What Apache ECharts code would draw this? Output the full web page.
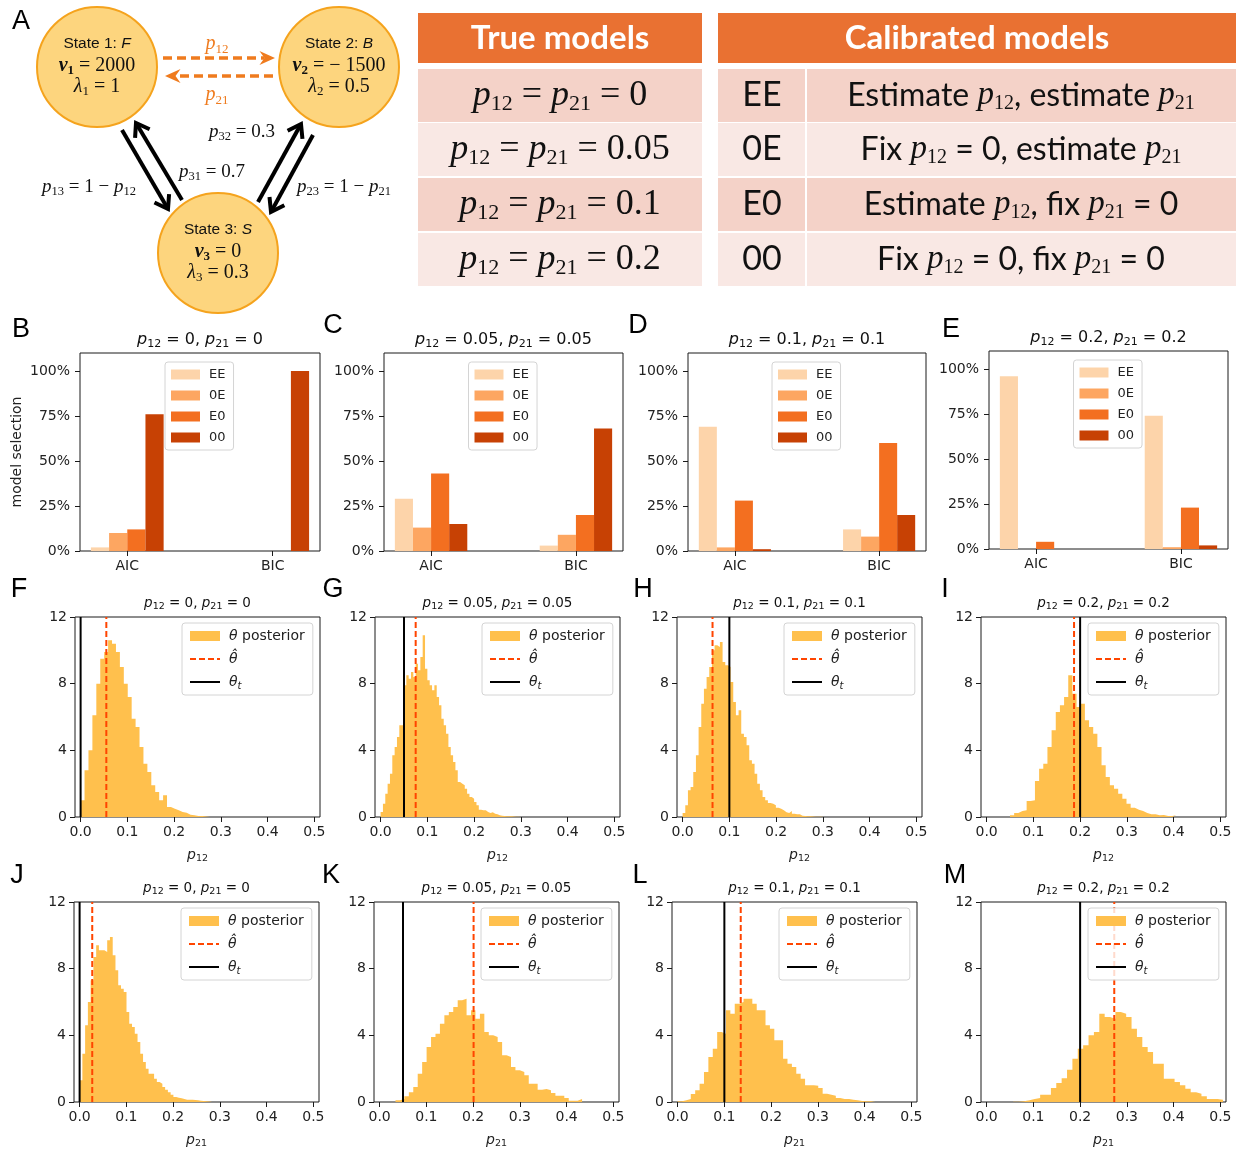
<!DOCTYPE html>
<html>
<head>
<meta charset="utf-8">
<script src="https://cdn.jsdelivr.net/npm/echarts@6/dist/echarts.min.js"></script>
<style>
  html, body { margin: 0; padding: 0; background: #fff; }
  #chart { width: 1236px; height: 1151px; }
</style>
</head>
<body>
<div id="chart"></div>
<script>
// ---------------- data ----------------
const models = ['EE', '0E', 'E0', '00'];
const criteria = ['AIC', 'BIC'];
const percentTicks = [0, 25, 50, 75, 100];
const pTicks = [0, 0.1, 0.2, 0.3, 0.4, 0.5];
const trueP = [0, 0.05, 0.1, 0.2];

// model selection frequency (%): rows AIC, BIC; columns follow `models`
const selectionB = [[2, 10, 12, 76], [0, 0, 0, 100]];
const selectionC = [[29, 13, 43, 15], [3, 9, 20, 68]];
const selectionD = [[69, 2, 28, 1], [12, 8, 60, 20]];
const selectionE = [[96, 0, 4, 0], [74, 1, 23, 2]];

// posterior densities of p12 (F–I) and p21 (J–M): first bin edge, bin width, densities
const histF_start = 0, histF_width = 0.0084;
const histF = [1.0, 2.8, 4.0, 6.1, 8.0, 9.5, 9.9, 10.6, 10.4, 9.9, 9.0, 8.0, 7.2, 5.9, 5.4, 4.2, 3.2, 2.7, 1.9, 1.5, 1.0, 1.3, 0.6, 0.5, 0.4, 0.3, 0.26, 0.14, 0.1, 0.06, 0.06, 0.03, 0.02];
const histG_start = 0, histG_width = 0.005;
const histG = [0.3, 0.8, 1.4, 2.0, 2.6, 3.7, 4.2, 4.8, 5.5, 5.5, 7.9, 8.5, 8.3, 8.7, 8.4, 9.2, 8.8, 9.6, 10.9, 8.9, 8.2, 7.9, 7.6, 7.9, 7.2, 6.7, 5.9, 5.5, 5.0, 4.2, 3.7, 3.3, 2.8, 2.1, 2.0, 1.9, 1.7, 1.4, 1.2, 1.1, 0.9, 0.7, 0.44, 0.4, 0.4, 0.3, 0.24, 0.28, 0.2, 0.16, 0.1, 0.08, 0.06, 0.05, 0.04, 0.04, 0.03, 0.02, 0.02, 0.02];
const histH_start = 0, histH_width = 0.0057;
const histH = [0.24, 0.7, 1.6, 1.8, 2.7, 3.7, 5.4, 6.8, 7.7, 8.4, 9.0, 10.0, 10.3, 10.2, 10.5, 9.3, 9.1, 9.0, 8.1, 6.9, 6.1, 6.4, 5.0, 4.8, 4.3, 3.4, 3.2, 2.6, 2.0, 1.6, 1.2, 1.0, 0.84, 0.8, 0.7, 0.56, 0.5, 0.4, 0.28, 0.24, 0.36, 0.2, 0.16, 0.16, 0.08, 0.06, 0.04, 0.04, 0.03, 0.02, 0.02, 0.02, 0.02];
const histI_start = 0.05, histI_width = 0.0089;
const histI = [0.1, 0.24, 0.36, 0.4, 0.96, 1.0, 2.16, 2.9, 3.2, 4.2, 5.2, 6.3, 6.7, 7.2, 8.5, 7.4, 6.6, 6.8, 5.8, 5.4, 5.0, 4.2, 3.1, 2.4, 1.9, 1.7, 1.4, 1.1, 0.8, 0.56, 0.44, 0.36, 0.24, 0.16, 0.16, 0.1, 0.12, 0.06, 0.06, 0.1];
const histJ_start = 0, histJ_width = 0.0059;
const histJ = [1.3, 2.9, 4.6, 6.0, 7.3, 8.7, 9.4, 9.1, 9.1, 9.0, 9.7, 9.9, 8.8, 7.9, 7.0, 6.8, 6.6, 5.4, 4.7, 4.5, 4.1, 3.6, 2.9, 2.4, 2.0, 1.7, 1.7, 1.4, 1.2, 1.1, 0.9, 0.74, 0.58, 0.44, 0.3, 0.26, 0.22, 0.18, 0.14, 0.14, 0.14, 0.12, 0.1, 0.08, 0.06, 0.04, 0.03, 0.02];
const histK_start = 0.034, histK_width = 0.0095;
const histK = [0.1, 0.18, 0.34, 0.58, 0.9, 1.7, 2.4, 3.3, 3.9, 4.1, 4.7, 5.2, 5.4, 5.7, 6.1, 6.2, 5.2, 5.5, 5.0, 5.3, 4.2, 4.0, 3.9, 3.6, 2.8, 2.7, 2.1, 1.9, 1.8, 1.6, 1.1, 1.1, 0.74, 0.78, 0.7, 0.54, 0.38, 0.38, 0.24, 0.08, 0.08, 0.18];
const histL_start = 0, histL_width = 0.0094;
const histL = [0.04, 0.1, 0.18, 0.48, 0.7, 1.1, 1.8, 2.7, 3.2, 4.2, 4.1, 5.5, 5.3, 5.9, 6.0, 6.2, 6.2, 5.9, 5.5, 5.5, 4.6, 4.4, 3.7, 3.7, 2.6, 2.3, 2.1, 1.7, 1.4, 1.0, 1.0, 0.98, 0.84, 0.5, 0.44, 0.38, 0.24, 0.18, 0.18, 0.14, 0.1, 0.06, 0.04, 0.04, 0.04];
const histM_start = 0.057, histM_width = 0.0115;
const histM = [0.02, 0.04, 0.1, 0.18, 0.24, 0.44, 0.44, 0.84, 1.14, 1.43, 1.93, 2.6, 3.2, 3.4, 4.0, 4.2, 5.3, 5.1, 5.0, 5.4, 5.3, 5.1, 4.4, 3.9, 3.3, 3.0, 2.3, 2.3, 1.4, 1.4, 1.2, 1.0, 0.8, 0.58, 0.5, 0.34, 0.18, 0.18, 0.14];

// posterior point estimates
const estimateP12 = [0.055, 0.075, 0.064, 0.187];
const estimateP21 = [0.027, 0.201, 0.135, 0.273];

// calibrated model descriptions (table in panel A)
const modelDescriptions = [
  ['Estimate ', 'p12', ', estimate ', 'p21', ''],
  ['Fix ', 'p12', ' = 0, estimate ', 'p21', ''],
  ['Estimate ', 'p12', ', fix ', 'p21', ' = 0'],
  ['Fix ', 'p12', ' = 0, fix ', 'p21', ' = 0']
];

// ---------------- style & layout ----------------
const FONT = 'DejaVu Sans';
const SERIF = 'Liberation Serif';
const SANS = 'Liberation Sans';
const TABLE_FONT = 'Lato';
const INK = '#1a1a1a';
const HIST_COLOR = '#FFC04D';
const EST_COLOR = '#FF4500';
const BAR_COLORS = ['#FDD4AA', '#FDA661', '#F36F20', '#C74104'];
const ORANGE = '#EF7B1E';
const BAR_W = 0.125;
const NO_SYMBOL = 'rgba(0,0,0,0)';

const barLayout = [
  { left: 80, top: 353, width: 240, height: 198 },
  { left: 384, top: 353, width: 239, height: 198 },
  { left: 688, top: 353, width: 238, height: 198 },
  { left: 989, top: 351, width: 239, height: 198 }
];
const histLayout = [
  { left: 75, top: 617 }, { left: 375, top: 617 }, { left: 677, top: 617 }, { left: 981, top: 617 },
  { left: 74, top: 902 }, { left: 374, top: 902 }, { left: 672, top: 902 }, { left: 981, top: 902 }
];
const HIST_W = 245, HIST_H = 200;

// ---------------- helpers ----------------
const tok = (s, t) => '{' + s + '|' + t + '}';
function pSym(sub, ps, ss) { return tok(ps, 'p') + tok(ss, sub); }
function titleText(a, b) {
  return pSym('12', 'p', 's') + tok('n', ' = ' + a + ', ') + pSym('21', 'p', 's') + tok('n', ' = ' + b);
}
function mathRich(size, subSize, family, color) {
  return {
    p: { fontFamily: family, fontStyle: 'italic', fontSize: size, lineHeight: size + 4, color: color, fill: color },
    s: { fontFamily: family, fontSize: subSize, lineHeight: Math.round(subSize * 0.75), verticalAlign: 'bottom', color: color, fill: color },
    n: { fontFamily: family, fontSize: size, lineHeight: size + 4, color: color, fill: color }
  };
}

const grids = [], xAxes = [], yAxes = [], series = [], legends = [], graphics = [];

function addText(x, y, text, rich, extra) {
  graphics.push(Object.assign({
    type: 'text', x: x, y: y, silent: true,
    style: { text: text, rich: rich, align: 'center', verticalAlign: 'middle', fill: INK }
  }, extra || {}));
}

// ---------------- panels B–E: model selection ----------------
function barRenderer(k) {
  return function (params, api) {
    const cx = api.value(0) + (k - 1.5) * BAR_W;
    const p0 = api.coord([cx - BAR_W / 2, api.value(1)]);
    const p1 = api.coord([cx + BAR_W / 2, 0]);
    return {
      type: 'rect',
      shape: { x: p0[0], y: p0[1], width: p1[0] - p0[0], height: p1[1] - p0[1] },
      style: { fill: api.visual('color') }
    };
  };
}

const selections = [selectionB, selectionC, selectionD, selectionE];
selections.forEach((sel, pi) => {
  const g = barLayout[pi];
  const gi = grids.length;
  grids.push(Object.assign({ show: true, borderColor: INK, borderWidth: 1, backgroundColor: 'transparent' }, g));
  xAxes.push({
    gridIndex: gi, type: 'value', min: -0.325, max: 1.325,
    splitLine: { show: false }, axisLine: { show: false, onZero: false },
    axisTick: { show: true, customValues: [0, 1], length: 5, lineStyle: { color: INK } },
    axisLabel: { customValues: [0, 1], formatter: v => criteria[Math.round(v)], fontSize: 14, color: '#222', fontFamily: FONT, margin: 8 }
  });
  yAxes.push({
    gridIndex: gi, type: 'value', min: 0, max: 110,
    splitLine: { show: false }, axisLine: { show: false, onZero: false },
    axisTick: { show: true, customValues: percentTicks, length: 5, lineStyle: { color: INK } },
    axisLabel: { customValues: percentTicks, formatter: v => v + '%', fontSize: 14, color: '#222', fontFamily: FONT, margin: 10 },
    name: pi === 0 ? 'model selection' : '', nameLocation: 'middle', nameGap: 56, nameRotate: 90,
    nameTextStyle: { fontSize: 14, color: '#222', fontFamily: FONT }
  });
  models.forEach((m, k) => {
    series.push({
      type: 'custom', name: m, xAxisIndex: gi, yAxisIndex: gi,
      itemStyle: { color: BAR_COLORS[k] },
      encode: { x: 0, y: 1 },
      data: criteria.map((c, ci) => [ci, sel[ci][k]]),
      renderItem: barRenderer(k)
    });
  });
  legends.push({
    orient: 'vertical', left: g.left + g.width / 2 - 35, top: g.top + 9,
    data: models.map(n => ({ name: n, icon: 'rect' })),
    selectedMode: false, itemWidth: 29, itemHeight: 10, itemGap: 6,
    padding: [5, 8, 5, 6], borderColor: '#d4d4d4', borderWidth: 1, borderRadius: 3,
    backgroundColor: 'rgba(255,255,255,0.8)',
    textStyle: { fontSize: 13, color: '#222', fontFamily: FONT, lineHeight: 15, padding: [0, 0, 0, 4] }
  });
  addText(g.left + g.width / 2, g.top - 13, titleText(trueP[pi], trueP[pi]), mathRich(16, 11, FONT, '#111'));
});

// ---------------- panels F–M: posterior histograms ----------------
const hists = [
  [histF, histF_start, histF_width, estimateP12[0], trueP[0], '12'],
  [histG, histG_start, histG_width, estimateP12[1], trueP[1], '12'],
  [histH, histH_start, histH_width, estimateP12[2], trueP[2], '12'],
  [histI, histI_start, histI_width, estimateP12[3], trueP[3], '12'],
  [histJ, histJ_start, histJ_width, estimateP21[0], trueP[0], '21'],
  [histK, histK_start, histK_width, estimateP21[1], trueP[1], '21'],
  [histL, histL_start, histL_width, estimateP21[2], trueP[2], '21'],
  [histM, histM_start, histM_width, estimateP21[3], trueP[3], '21']
];
const legendLabels = {
  posterior: '{i|θ} posterior',
  estimate: '{i|θ̂}',
  truth: '{i|θ}{t|t}'
};

hists.forEach(([dens, start, width, est, truth, sub], hi) => {
  const g = histLayout[hi];
  const gi = grids.length;
  grids.push({ left: g.left, top: g.top, width: HIST_W, height: HIST_H, show: true, borderColor: INK, borderWidth: 1, backgroundColor: 'transparent' });
  xAxes.push({
    gridIndex: gi, type: 'value', min: -0.012, max: 0.512,
    splitLine: { show: false }, axisLine: { show: false, onZero: false },
    axisTick: { show: true, customValues: pTicks, length: 5, lineStyle: { color: INK } },
    axisLabel: { customValues: pTicks, formatter: v => v.toFixed(1), fontSize: 14, color: '#222', fontFamily: FONT, margin: 8 },
    name: pSym(sub, 'p', 's'), nameLocation: 'middle', nameGap: 29,
    nameTextStyle: { rich: mathRich(14, 9.5, FONT, '#222') }
  });
  yAxes.push({
    gridIndex: gi, type: 'value', min: 0, max: 12, interval: 4,
    splitLine: { show: false }, axisLine: { show: false, onZero: false },
    axisTick: { show: true, length: 5, lineStyle: { color: INK } },
    axisLabel: { fontSize: 14, color: '#222', fontFamily: FONT, margin: 8 }
  });
  const stepData = dens.map((h, i) => [start + i * width, h]);
  stepData.push([start + dens.length * width, dens[dens.length - 1]]);
  series.push({
    type: 'line', name: 'posterior', xAxisIndex: gi, yAxisIndex: gi, step: 'end',
    symbol: 'none', silent: true, lineStyle: { width: 0 },
    itemStyle: { color: HIST_COLOR }, areaStyle: { color: HIST_COLOR, opacity: 1 },
    data: stepData
  });
  series.push({
    type: 'line', name: 'estimate', xAxisIndex: gi, yAxisIndex: gi, symbol: 'none', silent: true,
    itemStyle: { color: NO_SYMBOL }, lineStyle: { color: EST_COLOR, width: 2, type: [6, 3] },
    data: [[est, 0], [est, 12]]
  });
  series.push({
    type: 'line', name: 'truth', xAxisIndex: gi, yAxisIndex: gi, symbol: 'none', silent: true,
    itemStyle: { color: NO_SYMBOL }, lineStyle: { color: '#000', width: 2 },
    data: [[truth, 0], [truth, 12]]
  });
  legends.push({
    orient: 'vertical', left: g.left + HIST_W - 138, top: g.top + 6,
    data: [{ name: 'posterior', icon: 'rect' }, { name: 'estimate' }, { name: 'truth' }],
    selectedMode: false, itemWidth: 30, itemHeight: 10, itemGap: 5,
    padding: [4, 8, 4, 7], borderColor: '#d4d4d4', borderWidth: 1, borderRadius: 3,
    backgroundColor: 'rgba(255,255,255,0.8)',
    formatter: n => legendLabels[n],
    textStyle: {
      fontSize: 14, color: '#222', fontFamily: FONT, lineHeight: 18, padding: [0, 0, 0, 4],
      rich: {
        i: { fontStyle: 'italic', fontSize: 14, fontFamily: FONT, color: '#222', lineHeight: 18 },
        t: { fontStyle: 'italic', fontSize: 10, fontFamily: FONT, color: '#222', lineHeight: 8, verticalAlign: 'bottom' }
      }
    }
  });
  addText(g.left + HIST_W / 2, g.top - 14, titleText(trueP[hi % 4], trueP[hi % 4]), mathRich(13.5, 9.5, FONT, '#111'));
});

// ---------------- panel A: state diagram ----------------
const circleStyle = { fill: '#FDD57E', stroke: '#F5A31D', lineWidth: 2 };
[[97, 67], [339, 67], [218, 253]].forEach(([cx, cy]) => {
  graphics.push({ type: 'circle', silent: true, shape: { cx: cx, cy: cy, r: 60 }, style: circleStyle });
});
const stateRich = {
  a: { fontFamily: SANS, fontSize: 15.5, lineHeight: 18, fill: '#111' },
  ai: { fontFamily: SANS, fontSize: 15.5, fontStyle: 'italic', lineHeight: 18, fill: '#111' },
  b: { fontFamily: SERIF, fontSize: 20, fontStyle: 'italic', fontWeight: 'bold', lineHeight: 23, fill: '#111' },
  bs: { fontFamily: SERIF, fontSize: 13, fontWeight: 'bold', lineHeight: 10, verticalAlign: 'bottom', fill: '#111' },
  l: { fontFamily: SERIF, fontSize: 20, fontStyle: 'italic', lineHeight: 23, fill: '#111' },
  ls: { fontFamily: SERIF, fontSize: 13, lineHeight: 10, verticalAlign: 'bottom', fill: '#111' },
  n: { fontFamily: SERIF, fontSize: 20, lineHeight: 23, fill: '#111' }
};
const states = [
  [97, 67, '1', 'F', '2000', '1'],
  [339, 67, '2', 'B', '\u2212 1500', '0.5'],
  [218, 253, '3', 'S', '0', '0.3']
];
states.forEach(([cx, cy, idx, letter, nu, lam]) => {
  addText(cx, cy - 23, tok('a', 'State ' + idx + ': ') + tok('ai', letter), stateRich);
  addText(cx, cy - 1, tok('b', 'ν') + tok('bs', idx) + tok('n', ' = ' + nu), stateRich);
  addText(cx, cy + 20, tok('l', 'λ') + tok('ls', idx) + tok('n', ' = ' + lam), stateRich);
});

function unit(x1, y1, x2, y2) {
  const L = Math.hypot(x2 - x1, y2 - y1);
  return [(x2 - x1) / L, (y2 - y1) / L];
}
function rot(v, a) {
  return [v[0] * Math.cos(a) - v[1] * Math.sin(a), v[0] * Math.sin(a) + v[1] * Math.cos(a)];
}
// dashed orange arrow with a notched head
function dashedArrow(x1, y1, x2, y2) {
  const u = unit(x1, y1, x2, y2), b = [-u[0], -u[1]];
  const len = 17, ang = 0.42;
  const a1 = rot(b, ang), a2 = rot(b, -ang);
  const notch = [x2 + b[0] * len * 0.62, y2 + b[1] * len * 0.62];
  graphics.push({ type: 'line', silent: true, shape: { x1: x1, y1: y1, x2: notch[0], y2: notch[1] },
    style: { stroke: ORANGE, lineWidth: 3.5, lineDash: [9, 5] } });
  graphics.push({ type: 'polygon', silent: true,
    shape: { points: [[x2, y2], [x2 + a1[0] * len, y2 + a1[1] * len], notch, [x2 + a2[0] * len, y2 + a2[1] * len]] },
    style: { fill: ORANGE } });
}
// solid black arrow with an open head
function solidArrow(x1, y1, x2, y2) {
  const u = unit(x1, y1, x2, y2), b = [-u[0], -u[1]];
  const len = 15, ang = 0.6;
  const a1 = rot(b, ang), a2 = rot(b, -ang);
  graphics.push({ type: 'line', silent: true, shape: { x1: x1, y1: y1, x2: x2 - u[0] * 2, y2: y2 - u[1] * 2 },
    style: { stroke: '#000', lineWidth: 4 } });
  graphics.push({ type: 'polyline', silent: true,
    shape: { points: [[x2 + a1[0] * len, y2 + a1[1] * len], [x2, y2], [x2 + a2[0] * len, y2 + a2[1] * len]] },
    style: { stroke: '#000', lineWidth: 4, lineJoin: 'miter', fill: null } });
}
dashedArrow(163, 58, 275, 58);
dashedArrow(273, 76, 165, 76);
solidArrow(122, 130, 168, 209);
solidArrow(182, 200, 136, 123);
solidArrow(258, 202, 301, 124);
solidArrow(313, 135, 271, 212);

const orangeRich = mathRich(20, 13, SERIF, ORANGE);
addText(217, 44, pSym('12', 'p', 's'), orangeRich);
addText(217, 95, pSym('21', 'p', 's'), orangeRich);
const arrowRich = mathRich(19, 12.5, SERIF, '#111');
addText(89, 187, pSym('13', 'p', 's') + tok('n', ' = 1 \u2212 ') + pSym('12', 'p', 's'), arrowRich);
addText(212, 172, pSym('31', 'p', 's') + tok('n', ' = 0.7'), arrowRich);
addText(242, 132, pSym('32', 'p', 's') + tok('n', ' = 0.3'), arrowRich);
addText(344, 187, pSym('23', 'p', 's') + tok('n', ' = 1 \u2212 ') + pSym('21', 'p', 's'), arrowRich);

// ---------------- panel A: tables ----------------
const HEAD_FILL = '#E97132';
const ROW_FILLS = ['#F4D2C8', '#F9E8E4'];
const rowTops = [69, 123, 178, 233];
const rowH = 53;
graphics.push({ type: 'rect', silent: true, shape: { x: 418, y: 13, width: 284, height: 50 }, style: { fill: HEAD_FILL } });
graphics.push({ type: 'rect', silent: true, shape: { x: 718, y: 13, width: 518, height: 50 }, style: { fill: HEAD_FILL } });
const headRich = { h: { fontFamily: TABLE_FONT, fontWeight: 'bold', fontSize: 33, fill: '#fff', lineHeight: 36 } };
addText(560, 38, tok('h', 'True models'), headRich);
addText(977, 38, tok('h', 'Calibrated models'), headRich);

const tableMath = mathRich(36, 22, SERIF, '#111');
const descRich = {
  t: { fontFamily: TABLE_FONT, fontSize: 32, lineHeight: 36, fill: '#111' },
  c: { fontFamily: TABLE_FONT, fontSize: 34, lineHeight: 36, fill: '#111' },
  p: { fontFamily: SERIF, fontStyle: 'italic', fontSize: 33, lineHeight: 36, fill: '#111' },
  s: { fontFamily: SERIF, fontSize: 20, lineHeight: 15, verticalAlign: 'bottom', fill: '#111' }
};
rowTops.forEach((y, r) => {
  const fill = ROW_FILLS[r % 2];
  graphics.push({ type: 'rect', silent: true, shape: { x: 418, y: y, width: 284, height: rowH }, style: { fill: fill } });
  graphics.push({ type: 'rect', silent: true, shape: { x: 718, y: y, width: 87, height: rowH }, style: { fill: fill } });
  graphics.push({ type: 'rect', silent: true, shape: { x: 807, y: y, width: 429, height: rowH }, style: { fill: fill } });
  const cy = y + rowH / 2;
  addText(560, cy, pSym('12', 'p', 's') + tok('n', ' = ') + pSym('21', 'p', 's') + tok('n', ' = ' + trueP[r]), tableMath);
  addText(762, cy, tok('c', models[r]), descRich);
  const d = modelDescriptions[r];
  addText(1021, cy, tok('t', d[0]) + pSym(d[1].slice(1), 'p', 's') + tok('t', d[2]) + pSym(d[3].slice(1), 'p', 's') + (d[4] ? tok('t', d[4]) : ''), descRich);
});

// ---------------- panel letters ----------------
const letterRich = { L: { fontFamily: SANS, fontSize: 27, lineHeight: 30, fill: '#000' } };
[['A', 21, 22], ['B', 21, 330], ['C', 333, 326], ['D', 638, 326], ['E', 951, 330],
 ['F', 19, 590], ['G', 333, 590], ['H', 643, 590], ['I', 945, 590],
 ['J', 17, 876], ['K', 331, 876], ['L', 640, 876], ['M', 955, 876]].forEach(([t, x, y]) => {
  addText(x, y, tok('L', t), letterRich);
});

const chart = echarts.init(document.getElementById('chart'), null, { renderer: 'canvas' });
chart.setOption({
  animation: false,
  backgroundColor: '#fff',
  textStyle: { fontFamily: FONT },
  grid: grids,
  xAxis: xAxes,
  yAxis: yAxes,
  legend: legends,
  series: series,
  graphic: { elements: graphics }
});
</script>
</body>
</html>
